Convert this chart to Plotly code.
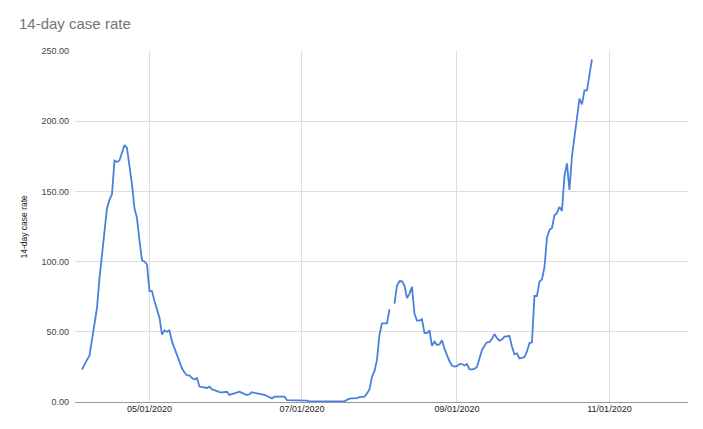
import pandas as pd
import plotly.graph_objects as go

start_date = "2020-04-04"
apr_values = [23, 27, 30, 33, 45, 58, 67, 88, 104, 122, 138, 144, 148, 172, 171,
              172, 177, 183, 181, 168, 155, 138, 131, 115, 101, 100, 98]
may_values = [79, 79, 72, 65, 60, 48, 51, 50, 51, 43, 38, 34, 28, 24, 21, 19, 19,
              17, 16, 17, 11, 10.5, 10, 10, 11, 9, 8.5, 7.5, 7, 6.8, 7]
jun_values = [7.3, 5, 5.5, 6, 7, 7.3, 6.5, 6, 5, 5.5, 7, 6.5, 6.2, 6, 5.6, 5, 4.3,
              3.5, 2.6, 3.8, 3.8, 3.8, 3.8, 3.8, 1.4, 1.4, 1.4, 1.4, 1.4, 1.4]
jul_values = [1.4, 1.4, 1.0, 0.5, 0.5, 0.5, 0.5, 0.5, 0.5, 0.5, 0.5, 0.5, 0.5, 0.5,
              0.5, 0.5, 0.5, 0.5, 1.5, 2.4, 2.6, 2.6, 2.8, 3.5, 3.8, 3.8, 6, 9, 18,
              22, 30]
aug_values = [48, 56, 56, 56, 66, None, 70, 83, 86, 86, 83, 74, 77, 82, 63, 58, 58,
              59, 49, 49, 51, 40, 43, 40.6, 41, 44, 38, 33, 29, 26, 25.2]
sep_values = [25.5, 27, 27, 26, 27, 23.3, 23.3, 23.5, 25, 32, 37, 40, 42.5, 42.7, 45,
              48.4, 45.5, 43.7, 44.5, 46.5, 47, 47, 39.5, 34, 34.7, 31, 31.5, 32, 36, 42]
oct_values = [42.5, 75.5, 75.5, 85.7, 87.3, 96, 117, 122.5, 124, 133, 134.5, 139, 136,
              161, 170, 151, 175, 190, 204, 216, 212, 222, 222, 233, 244]

tick_dates = ["2020-05-01", "2020-07-01", "2020-09-01", "2020-11-01"]
tick_labels = ["05/01/2020", "07/01/2020", "09/01/2020", "11/01/2020"]
y_ticks = [0, 50, 100, 150, 200, 250]

values = apr_values + may_values + jun_values + jul_values + aug_values + sep_values + oct_values
dates = pd.date_range(start_date, periods=len(values), freq="D")

FONT = "Arial, 'Liberation Sans', sans-serif"

# page body has an 8px default margin, so the figure is sized/offset to compensate
W, H = 695, 421
ML, MR, MT, MB = 67, 15, 43, 27
plot_w = W - ML - MR

fig = go.Figure()
fig.add_trace(go.Scatter(
    x=dates, y=values, mode="lines", connectgaps=False,
    line=dict(color="#4a80dc", width=1.8),
    hoverinfo="x+y",
))

fig.update_layout(
    width=W, height=H,
    margin=dict(l=ML, r=MR, t=MT, b=MB),
    paper_bgcolor="white", plot_bgcolor="white",
    showlegend=False,
    font=dict(family=FONT, size=9, color="#222222"),
    title=dict(text="14-day case rate", font=dict(family=FONT, size=15, color="#757575"),
               xref="container", yref="container", x=11 / W, xanchor="left",
               y=1 - 16 / H, yanchor="middle"),
    xaxis=dict(
        type="date",
        range=["2020-04-01 05:00", "2020-12-02 10:00"],
        tickmode="array", tickvals=tick_dates, ticktext=tick_labels,
        showgrid=True, gridcolor="#dddddd", gridwidth=1,
        zeroline=False, showline=False, ticks="",
        tickfont=dict(family=FONT, size=9, color="#222222"),
        fixedrange=True,
    ),
    yaxis=dict(
        range=[0, 250],
        tickmode="array", tickvals=y_ticks,
        tickformat=".2f",
        showgrid=True, gridcolor="#dddddd", gridwidth=1,
        zeroline=True, zerolinecolor="#999999", zerolinewidth=1.3,
        showline=False, ticks="",
        ticklabelstandoff=5,
        tickfont=dict(family=FONT, size=9, color="#444444"),
        fixedrange=True,
    ),
    annotations=[dict(
        text="14-day case rate", xref="paper", yref="paper",
        x=(23 - 8 - ML) / plot_w, y=0.5, showarrow=False, textangle=-90,
        xanchor="center", yanchor="middle",
        font=dict(family=FONT, size=8.5, color="#222222"),
    )],
)

fig.write_html("out.html")
